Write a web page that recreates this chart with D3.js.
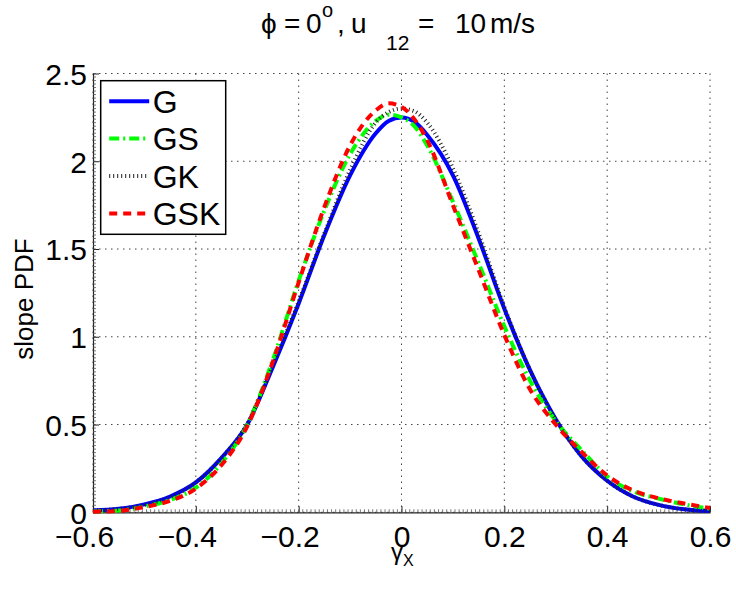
<!DOCTYPE html>
<html>
<head>
<meta charset="utf-8">
<script src="https://cdn.jsdelivr.net/npm/d3@7"></script>
<style>
  body { margin: 0; background: #fff; }
  svg { display: block; font-family: "Liberation Sans", Arial, sans-serif; }
</style>
</head>
<body>
<svg id="chart" width="736" height="593"></svg>
<script>
// slope values
const xs = [-0.6, -0.55, -0.5, -0.45, -0.4, -0.35, -0.3, -0.25, -0.2, -0.15, -0.1, -0.05, -0.025, 0,
  0.025, 0.05, 0.1, 0.15, 0.2, 0.25, 0.3, 0.35, 0.4, 0.45, 0.5, 0.55, 0.6]

const pdfG = [0.010, 0.020, 0.045, 0.090, 0.170, 0.310, 0.500, 0.830, 1.190, 1.580, 1.920, 2.160, 2.230, 2.250,
  2.225, 2.150, 1.920, 1.560, 1.160, 0.810, 0.530, 0.320, 0.180, 0.090, 0.042, 0.017, 0.007]
const pdfGS = [0.004, 0.010, 0.033, 0.070, 0.140, 0.280, 0.500, 0.870, 1.320, 1.720, 2.040, 2.230, 2.265, 2.250,
  2.200, 2.090, 1.770, 1.420, 1.060, 0.750, 0.520, 0.355, 0.205, 0.120, 0.078, 0.045, 0.020]
const pdfGK = [0.010, 0.020, 0.042, 0.088, 0.170, 0.310, 0.505, 0.840, 1.200, 1.590, 1.950, 2.220, 2.280, 2.300,
  2.285, 2.220, 1.960, 1.590, 1.170, 0.810, 0.530, 0.320, 0.180, 0.090, 0.042, 0.017, 0.007]
const pdfGSK = [0.003, 0.008, 0.030, 0.065, 0.135, 0.270, 0.490, 0.860, 1.310, 1.740, 2.090, 2.290, 2.330, 2.310,
  2.240, 2.120, 1.750, 1.380, 1.010, 0.700, 0.500, 0.345, 0.210, 0.125, 0.080, 0.050, 0.025]

const seriesNames = ['G', 'GS', 'GK', 'GSK']
const xTicks = [-0.6, -0.4, -0.2, 0, 0.2, 0.4, 0.6]
const yTicks = [0, 0.5, 1, 1.5, 2, 2.5]

const styles = {
  G:   { color: '#0000ff', width: 4, dash: null },
  GS:  { color: '#00ff00', width: 4, dash: '10,4,2,4' },
  GK:  { color: '#222222', width: 4, dash: '1,3' },
  GSK: { color: '#ff0000', width: 4, dash: '8,6' }
}

const width = 736, height = 593
const margin = { top: 73.5, right: 26, bottom: 80.7, left: 93 }
const innerW = width - margin.left - margin.right
const innerH = height - margin.top - margin.bottom

const svg = d3.select('#chart')
const g = svg.append('g').attr('transform', `translate(${margin.left},${margin.top})`)

const x = d3.scaleLinear().domain([-0.6, 0.6]).range([0, innerW])
const y = d3.scaleLinear().domain([0, 2.5]).range([innerH, 0])

const fmt = d => d === 0 ? '0' : (d < 0 ? '\u2212' : '') + Math.abs(d)

// grid
g.append('g').attr('class', 'grid')
  .selectAll('line.gx').data(xTicks).join('line')
  .attr('x1', d => x(d)).attr('x2', d => x(d))
  .attr('y1', 0).attr('y2', innerH)
  .attr('stroke', '#444').attr('stroke-width', 1).attr('stroke-dasharray', '1.5,4.5')

g.append('g').attr('class', 'grid')
  .selectAll('line.gy').data(yTicks).join('line')
  .attr('x1', 0).attr('x2', innerW)
  .attr('y1', d => y(d)).attr('y2', d => y(d))
  .attr('stroke', '#444').attr('stroke-width', 1).attr('stroke-dasharray', '1.5,4.5')

// axes (ticks point inward like matlab)
const xAxis = g.append('g')
  .attr('transform', `translate(0,${innerH})`)
  .call(d3.axisBottom(x).tickValues(xTicks).tickSizeInner(-6).tickSizeOuter(0).tickFormat(fmt))
const yAxis = g.append('g')
  .call(d3.axisLeft(y).tickValues(yTicks).tickSizeInner(-6).tickSizeOuter(0).tickFormat(fmt))

xAxis.select('.domain').attr('stroke', '#222').attr('stroke-width', 1.2)
yAxis.select('.domain').attr('stroke', '#222').attr('stroke-width', 1.2)
xAxis.selectAll('.tick line').attr('stroke', '#222')
yAxis.selectAll('.tick line').attr('stroke', '#222')

xAxis.selectAll('.tick text')
  .attr('x', d => d < 0 ? -9 : 0)
  .attr('y', 34.5).attr('dy', 0)
  .attr('font-size', 30).attr('fill', '#000')
  .style('font-family', '"Liberation Sans", Arial, sans-serif')
yAxis.selectAll('.tick text')
  .attr('x', -6).attr('dy', '0.36em')
  .attr('font-size', 30).attr('fill', '#000')
  .style('font-family', '"Liberation Sans", Arial, sans-serif')

// minor ticks
const xMinor = d3.range(-0.6, 0.6001, 0.008)
const yMinor = d3.range(0, 2.5001, 0.02)
g.append('g').selectAll('line').data(xMinor).join('line')
  .attr('x1', d => x(d)).attr('x2', d => x(d))
  .attr('y1', innerH).attr('y2', innerH - 3)
  .attr('stroke', '#555').attr('stroke-width', 0.8)
g.append('g').selectAll('line').data(yMinor).join('line')
  .attr('x1', 0).attr('x2', 3)
  .attr('y1', d => y(d)).attr('y2', d => y(d))
  .attr('stroke', '#555').attr('stroke-width', 0.8)

// curves
const seriesData = {
  G: pdfG,
  GS: pdfGS,
  GK: pdfGK,
  GSK: pdfGSK
}

const line = d3.line()
  .x((d, i) => x(xs[i]))
  .y(d => y(d))
  .curve(d3.curveMonotoneX)

const plot = g.append('g')
seriesNames.forEach(name => {
  const s = styles[name]
  plot.append('path')
    .datum(seriesData[name])
    .attr('fill', 'none')
    .attr('stroke', s.color)
    .attr('stroke-width', s.width)
    .attr('stroke-dasharray', s.dash)
    .attr('d', line)
})

// legend
const legend = svg.append('g').attr('transform', 'translate(100.7,80.7)')
legend.append('rect')
  .attr('width', 125).attr('height', 153.6)
  .attr('fill', '#fff').attr('stroke', '#000').attr('stroke-width', 1.5)

seriesNames.forEach((name, i) => {
  const s = styles[name]
  const cy = 20.5 + i * 37.4
  legend.append('line')
    .attr('x1', 8.5).attr('x2', 48.5)
    .attr('y1', cy).attr('y2', cy)
    .attr('stroke', s.color)
    .attr('stroke-width', s.width)
    .attr('stroke-dasharray', s.dash)
  legend.append('text')
    .attr('x', 52).attr('y', cy).attr('dy', '0.36em')
    .attr('font-size', 32)
    .text(name)
})

// title, pieces placed like the tex layout of the original
const title = svg.append('text')
  .attr('y', 33)
  .attr('font-size', 28)
title.append('tspan').attr('x', 261).text('\u03d5')
title.append('tspan').attr('x', 284).text('=')
title.append('tspan').attr('x', 306).text('0')
title.append('tspan').attr('x', 322).attr('font-size', 20).attr('dy', -16).text('o')
title.append('tspan').attr('x', 337).attr('dy', 16).text(',')
title.append('tspan').attr('x', 351).text('u')
title.append('tspan').attr('x', 386).attr('font-size', 21).attr('dy', 17).text('12')
title.append('tspan').attr('x', 418).attr('dy', -17).text('=')
title.append('tspan').attr('x', 455).text('10')
title.append('tspan').attr('x', 490).text('m/s')

// axis labels
const xl = svg.append('text')
  .attr('x', 391).attr('y', 560)
  .attr('font-size', 24)
xl.append('tspan').text('\u03b3')
xl.append('tspan').attr('font-size', 16).attr('dy', 6).text('X')

svg.append('text')
  .attr('transform', 'translate(33,299) rotate(-90)')
  .attr('text-anchor', 'middle')
  .attr('font-size', 26)
  .text('slope PDF')
</script>
</body>
</html>
